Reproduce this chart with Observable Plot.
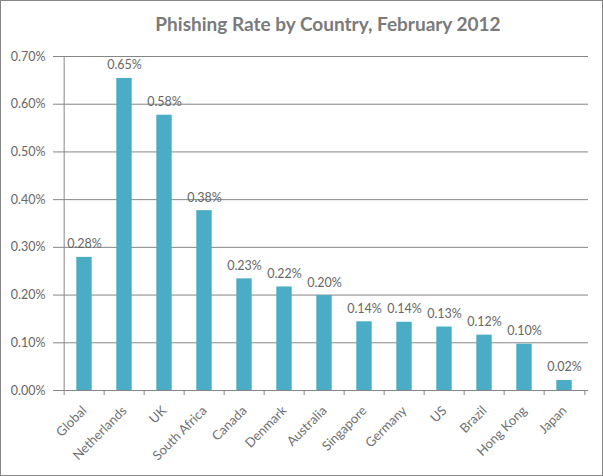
<!DOCTYPE html>
<html><head><meta charset="utf-8">
<script src="https://cdn.jsdelivr.net/npm/d3@7"></script>
<script src="https://cdn.jsdelivr.net/npm/@observablehq/plot@0.6"></script>
<style>
body{margin:0;background:#fff;}
#wrap{position:relative;width:603px;height:476px;overflow:hidden;background:#fff;}
#border{position:absolute;left:0;top:0;width:601px;height:474px;border:1px solid #868686;pointer-events:none;}
#title{box-sizing:border-box;height:45px;padding-top:13px;padding-left:53px;font:bold 19px Lato, sans-serif;line-height:22px;color:#7a7a7a;text-align:center;white-space:nowrap;}
svg{display:block;}
</style>
</head><body>
<div id="wrap"><div id="title">Phishing Rate by Country, February 2012</div><div id="chart"></div><div id="border"></div></div>
<script>
const categories = ["Global","Netherlands","UK","South Africa","Canada","Denmark","Australia","Singapore","Germany","US","Brazil","Hong Kong","Japan"];
const rates = [0.279,0.654,0.577,0.377,0.234,0.217,0.199,0.144,0.143,0.133,0.116,0.097,0.021];
const yTicks = [0,0.1,0.2,0.3,0.4,0.5,0.6,0.7];

const data = categories.map((c,i)=>({country:c, rate:rates[i]}));
const W = 603, H = 431, ML = 59, MR = 15, MT = 11, MB = 86;
const step = (W-ML-MR)/categories.length;
const gray = "#868686";

const chart = Plot.plot({
  width: W, height: H, marginLeft: ML, marginRight: MR, marginTop: MT, marginBottom: MB,
  style: {fontFamily: "Lato, sans-serif", fontSize: "12.5px", color: "#666", background: "transparent", overflow: "visible"},
  x: {domain: categories, padding: 0, label: null},
  y: {domain: [0, 0.7], label: null},
  marks: [
    Plot.ruleY(yTicks, {stroke: gray}),
    Plot.axisY({ticks: yTicks, tickSize: 6, tickPadding: 8, tickFormat: d => d.toFixed(2) + "%", stroke: gray, label: null}),
    Plot.ruleX([categories[0]], {dx: -step/2, stroke: gray}),
    Plot.ruleX(categories, {dx: -step/2, y1: 0, y2: 0, insetBottom: -5, stroke: gray}),
    Plot.ruleX([categories[categories.length-1]], {dx: step/2, y1: 0, y2: 0, insetBottom: -5, stroke: gray}),
    Plot.barY(data, {x: "country", y: "rate", fill: "#4BACC6", insetLeft: 12.3, insetRight: 12.3}),
    Plot.text(data, {x: "country", y: "rate", text: d => d.rate.toFixed(2) + "%", dy: -13, fill: "#666"}),
    Plot.axisX({tickSize: 0, tickRotate: -45, tickPadding: 18, fontSize: 13, fill: "#707070", label: null})
  ]
});
document.getElementById("chart").appendChild(chart);
</script>
</body></html>
